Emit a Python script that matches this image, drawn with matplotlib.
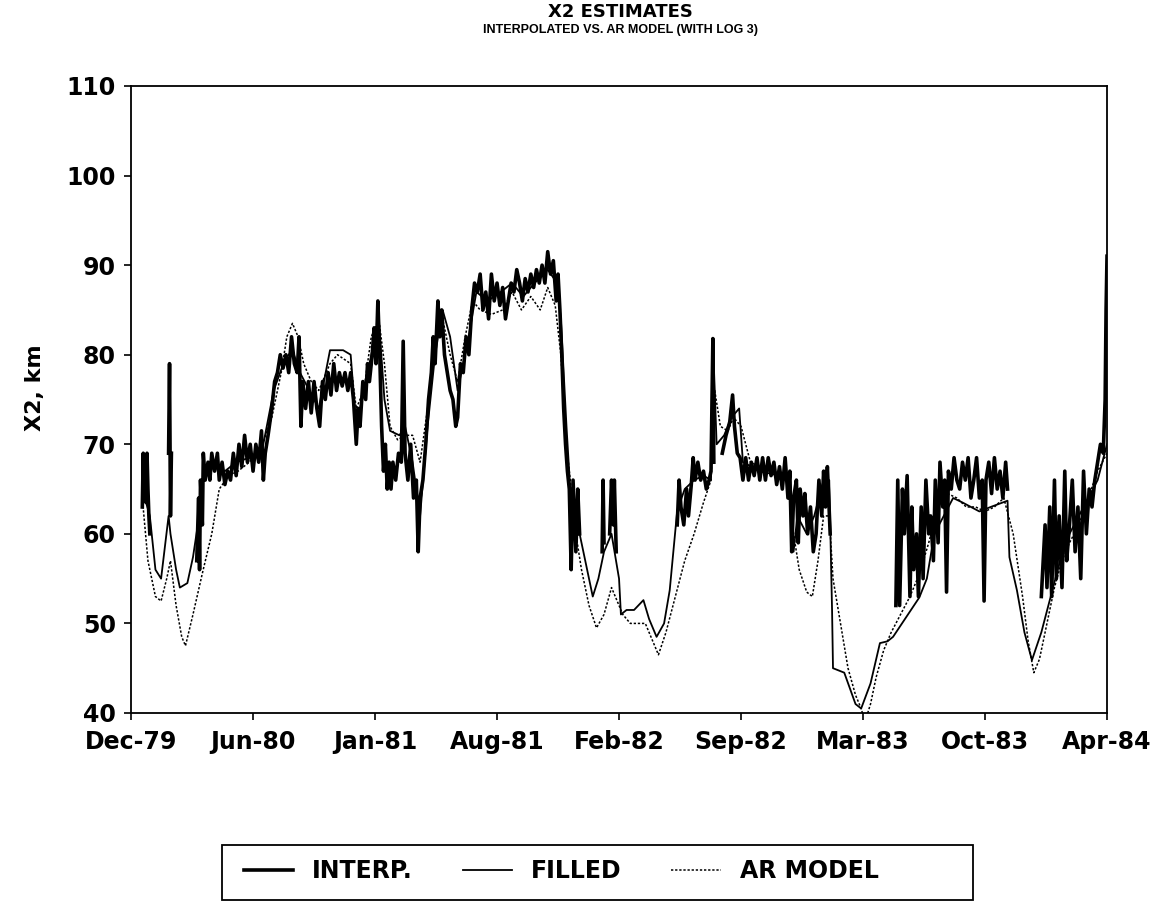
import numpy as np
import matplotlib.pyplot as plt
from matplotlib.patches import Rectangle

# x positions are months after 1 Dec 1979
tick_labels = ['Dec-79', 'Jun-80', 'Jan-81', 'Aug-81', 'Feb-82',
               'Sep-82', 'Mar-83', 'Oct-83', 'Apr-84']

nan = np.nan

# interpolated X2 (gaps where no salinity data)
interp_m = [0.60, 0.65, 0.70, 0.75, 0.80, 0.85, 0.90, 0.95, 1.00, 1.02,
            2.00, 2.05, 2.10, 2.15, 2.17,
            3.50, 3.60, 3.65, 3.70, 3.80, 3.85, 3.95, 4.10, 4.20, 4.30,
            4.45, 4.60, 4.70, 4.85, 5.00, 5.15, 5.30, 5.45, 5.60, 5.75,
            5.90, 6.05, 6.20, 6.35, 6.50, 6.65, 6.80, 6.95, 7.05, 7.15,
            7.30, 7.50, 7.65, 7.80, 7.95, 8.10, 8.25, 8.40, 8.55, 8.70,
            8.85, 8.95, 9.05, 9.15, 9.30, 9.45, 9.60, 9.75, 9.90, 10.05,
            10.20, 10.35, 10.50, 10.65, 10.80, 10.95, 11.10, 11.25, 11.40, 11.55,
            11.70, 11.85, 12.00, 12.10, 12.20, 12.35, 12.50, 12.60, 12.70, 12.85,
            12.95, 13.05, 13.15, 13.25, 13.35, 13.45, 13.55, 13.65, 13.75, 13.85,
            13.95, 14.10, 14.25, 14.40, 14.50, 14.60, 14.75, 14.90, 15.05, 15.20,
            15.30, 15.40, 15.55, 15.70, 15.85, 16.00, 16.10, 16.20, 16.35, 16.45,
            16.55, 16.70, 16.85, 17.00, 17.15, 17.30, 17.40, 17.55, 17.70, 17.85,
            18.00, 18.15, 18.30, 18.45, 18.60, 18.75, 18.90, 19.05, 19.20, 19.35,
            19.50, 19.65, 19.80, 19.95, 20.10, 20.25, 20.40, 20.55, 20.70, 20.85,
            21.00, 21.15, 21.30, 21.45, 21.60, 21.75, 21.90, 22.05, 22.20, 22.35,
            22.50, 22.65, 22.75, 22.85, 22.95, 23.05, 23.15, 23.25, 23.35, 23.45,
            23.55, 23.70, 23.80, 23.90, 23.92,
            25.10, 25.15, 25.20, 25.22,
            25.50, 25.60, 25.70, 25.75, 25.85, 25.87,
            29.10, 29.20, 29.30, 29.45, 29.60, 29.70, 29.85, 29.95, 30.05, 30.20,
            30.35, 30.50, 30.65, 30.80, 30.90, 31.00, 31.05, 31.07,
            31.50, 31.70, 31.90, 32.05, 32.15, 32.30, 32.45, 32.60, 32.75, 32.90,
            33.05, 33.20, 33.35, 33.50, 33.65, 33.80, 33.95, 34.10, 34.25, 34.40,
            34.55, 34.70, 34.85, 35.00, 35.10, 35.20, 35.30, 35.45, 35.55, 35.65,
            35.80, 35.90, 36.05, 36.20, 36.35, 36.50, 36.65, 36.80, 36.90, 37.00,
            37.10, 37.25, 37.27,
            40.75, 40.85, 40.95, 41.10, 41.20, 41.35, 41.50, 41.60, 41.70, 41.85,
            41.95, 42.10, 42.20, 42.35, 42.50, 42.60, 42.75, 42.85, 43.00, 43.10,
            43.25, 43.35, 43.45, 43.55, 43.70, 43.85, 44.00, 44.15, 44.30, 44.45,
            44.60, 44.75, 44.90, 45.05, 45.20, 45.35, 45.45, 45.55, 45.70, 45.85,
            46.00, 46.15, 46.30, 46.45, 46.60, 46.70, 46.72,
            48.50, 48.70, 48.80, 48.95, 49.05, 49.20, 49.30, 49.45, 49.60, 49.75,
            49.85, 50.00, 50.15, 50.30, 50.45, 50.60, 50.75, 50.90, 51.05, 51.20,
            51.35, 51.50, 51.65, 51.80, 51.90, 51.95, 52.00]
interp_v = [63, 69, 64, 68.5, 63.5, 69, 65, 62, 60, nan,
            69, 79, 62, 69, nan,
            57, 64, 56, 66, 61, 69, 66, 68, 66, 69,
            67, 69, 66, 68, 65.5, 67, 66, 69, 66.5, 70,
            67.5, 71, 68, 70, 67, 70, 68, 71.5, 66, 69,
            71, 74, 77, 78, 80, 78.5, 80, 78, 82, 79,
            78, 82, 72, 77, 74, 77, 73.5, 77, 74, 72,
            77, 75, 78, 75.5, 79, 76, 78, 76.5, 78, 76,
            78, 75, 70, 74, 72, 77, 75, 79, 77, 80,
            83, 79, 86, 80, 72, 67, 70, 65, 68, 65,
            68, 66, 69, 68, 81.5, 69, 66, 70, 64, 66,
            58, 64, 66, 70, 75, 78, 82, 79, 86, 82,
            85, 80, 78, 76, 75, 72, 73, 79, 78, 82,
            80, 85, 88, 87, 89, 85, 87, 84, 89, 86,
            88, 85.5, 87.5, 84, 86, 88, 87, 89.5, 88, 86,
            88.5, 87, 89, 87.5, 89.5, 88, 90, 88, 91.5, 89,
            90.5, 86, 89, 85, 80, 74, 70, 67, 65, 56,
            66, 58, 65, 60, nan,
            58, 66, 59, nan,
            60, 66, 61, 66, 58, nan,
            61, 66, 63, 61, 65, 62, 65.5, 68.5, 66, 68,
            66, 67, 65, 66, 67, 81.8, 68, nan,
            69, 71, 72.5, 75.5, 72, 69, 68.5, 66, 68.5, 66,
            68, 66.5, 68.5, 66, 68.5, 66, 68.5, 66.5, 68, 65.5,
            67.5, 65, 68.5, 64, 67, 58, 64, 66, 59, 65,
            62, 64.5, 60, 63, 58, 60, 66, 62, 67, 63,
            67.5, 60, nan,
            52, 66, 52, 65, 60, 66.5, 53, 63, 56, 60,
            53, 63, 55, 66, 60, 62, 57, 66, 59, 68,
            63, 66, 53.5, 67, 65, 68.5, 66, 65, 68, 66,
            68.5, 64, 66, 68.5, 64, 66, 52.5, 66, 68, 64.5,
            68.5, 65, 67, 64, 68, 65, nan,
            53, 61, 54, 63, 53, 66, 55, 62, 54, 67,
            57, 61, 66, 58, 63, 55, 67, 60, 65, 63,
            66, 68, 70, 69, 75, 85, 91]

# filled record
filled_m = [0.6, 1.0, 1.3, 1.6, 2.0, 2.1, 2.4, 2.6, 3.0, 3.3,
            3.7, 3.9, 4.5, 5.0, 5.6, 6.3, 7.0, 7.6, 8.2, 8.6,
            9.0, 9.5, 10.0, 10.6, 11.3, 11.7, 12.0, 12.4, 12.8, 13.2,
            13.5, 13.8, 14.3, 14.6, 15.0, 15.4, 15.8, 16.2, 16.6, 17.0,
            17.4, 17.9, 18.4, 19.0, 19.7, 20.3, 20.9, 21.5, 22.2, 22.7,
            22.9, 23.2, 23.4, 23.8, 24.2, 24.6, 24.9, 25.2, 25.6, 26.0,
            26.1, 26.4, 26.8, 27.3, 27.6, 28.0, 28.4, 28.7, 29.1, 29.5,
            30.0, 30.5, 30.9, 31.0, 31.2, 31.6, 32.0, 32.4, 32.6, 33.5,
            34.5, 35.1, 35.3, 35.5, 36.0, 36.4, 36.9, 37.2, 37.35, 37.4,
            38.0, 38.6, 38.9, 39.4, 39.9, 40.3, 40.6, 41.3, 42.0, 42.4,
            42.8, 43.3, 43.8, 44.3, 45.2, 45.8, 46.7, 46.8, 47.2, 47.6,
            48.0, 48.5, 49.0, 49.5, 50.0, 50.5, 51.0, 51.5, 52.0]
filled_v = [65, 62, 56, 55, 62, 60, 56, 54, 54.5, 57.4,
            63, 67, 67.5, 67, 68, 68.5, 69.5, 76, 79.5, 80.5,
            78, 76, 74, 80.5, 80.5, 80, 72, 76, 80, 84,
            75, 71.5, 71, 72, 68, 62, 72, 80, 85, 82,
            76, 81, 87, 86, 87, 88, 86.5, 88, 89.5, 88,
            84, 72, 65, 61, 57, 53, 55, 58, 60, 55,
            51, 51.5, 51.5, 52.6, 50.5, 48.5, 50, 53.7, 62.6, 65,
            66, 66.5, 66, 81.8, 70, 71, 73, 74, 68, 67,
            66.5, 66, 58, 62, 60, 62, 66, 66, 51.5, 45,
            44.5, 41, 40.5, 43.3, 47.8, 48, 48.5, 50.7, 52.9, 55,
            60, 62, 64, 63.5, 62.5, 63, 63.7, 57.4, 53.7, 49,
            45.9, 49, 53, 57, 60, 62, 64, 66, 70]

# AR model estimate
ar_m = [0.6, 0.9, 1.3, 1.6, 1.9, 2.1, 2.4, 2.7, 2.9, 3.3,
        3.8, 4.3, 4.7, 5.2, 5.7, 6.3, 7.0, 7.5, 8.0, 8.3,
        8.6, 8.9, 9.2, 9.6, 10.0, 10.6, 11.0, 11.7, 12.0, 12.4,
        12.8, 13.2, 13.5, 13.8, 14.2, 14.6, 15.0, 15.4, 15.8, 16.2,
        16.6, 17.0, 17.4, 17.8, 18.2, 18.6, 19.2, 19.8, 20.3, 20.8,
        21.3, 21.8, 22.2, 22.6, 22.9, 23.2, 23.4, 23.7, 24.0, 24.4,
        24.8, 25.2, 25.6, 25.9, 26.2, 26.6, 27.0, 27.4, 27.8, 28.1,
        28.5, 29.0, 29.5, 30.0, 30.5, 30.9, 31.1, 31.4, 31.8, 32.1,
        32.5, 33.0, 33.5, 34.0, 34.5, 35.0, 35.3, 35.6, 36.0, 36.3,
        36.6, 36.9, 37.2, 37.4, 37.8, 38.2, 38.6, 38.9, 39.1, 39.4,
        39.7, 40.1, 40.5, 41.0, 41.5, 42.0, 42.5, 43.0, 43.5, 44.0,
        44.5, 45.0, 45.5, 46.0, 46.5, 47.0, 47.5, 47.8, 48.1, 48.4,
        48.8, 49.2, 49.6, 50.0, 50.5, 51.0, 51.5, 52.0]
ar_v = [64, 57, 53, 52.5, 55, 57, 52, 48.5, 47.5, 51,
        55.6, 60, 65, 66.5, 67, 68, 70, 73, 78, 82,
        83.5, 82, 79, 77, 76, 79, 80, 79, 74, 76,
        82, 84, 79, 72, 70.5, 71, 71, 68, 74, 81,
        84, 80, 77, 82, 86, 85, 84.5, 85, 87, 85,
        86.5, 85, 87.5, 85.5, 80, 70, 66, 60, 56, 52,
        49.5, 51, 54, 52.5, 51, 50, 50, 50, 48, 46.5,
        49, 53, 57, 60, 63.5, 66, 76, 72, 71.5, 73,
        72, 68, 67.5, 67, 66.5, 66, 60, 56, 53.5, 53,
        57, 62, 62, 55, 50, 45, 42, 40.5, 39, 41,
        44, 47, 49, 51, 53, 55.5, 59, 63, 64.5, 64,
        63, 63, 62.5, 63, 64, 60, 53, 48, 44.5, 46,
        50, 54, 57, 59, 61, 64, 67, 69]

plt.rcParams['font.family'] = ['DejaVu Sans']
plt.rcParams['font.weight'] = 'bold'

fig = plt.figure(figsize=(11.67, 9.10), dpi=100)
ax = fig.add_axes([0.1123, 0.2165, 0.8363, 0.6890])

ax.plot(ar_m, ar_v, color='black', lw=1.1, ls=(0, (1.5, 1.2)), label='AR MODEL')
ax.plot(filled_m, filled_v, color='black', lw=1.3, label='FILLED')
ax.plot(interp_m, interp_v, color='black', lw=2.6, label='INTERP.')

ax.set_xlim(0, 52)
ax.set_ylim(40, 110)
ax.set_xticks(np.linspace(0, 52, len(tick_labels)))
ax.set_xticklabels(tick_labels)
ax.set_yticks(range(40, 111, 10))
ax.tick_params(direction='out', length=5, width=1.2, labelsize=17)
ax.tick_params(axis='y', pad=6)
ax.tick_params(axis='x', pad=7)
for s in ax.spines.values():
    s.set_linewidth(1.3)

fig.text(35 / 1167, 1 - 388 / 910, 'X2, km', rotation=90, ha='center',
         va='center', fontsize=16, fontweight='bold')

fig.text(0.532, 0.987, 'X2 ESTIMATES', ha='center', va='center',
         fontsize=13, fontweight='bold')
fig.text(0.532, 0.967, 'INTERPOLATED VS. AR MODEL (WITH LOG 3)',
         ha='center', va='center', fontsize=9,
         family='Liberation Sans', fontweight='bold')

# legend entries, with the box drawn separately
h, l = ax.get_legend_handles_labels()
fig.legend(h[::-1], l[::-1], loc='center left', bbox_to_anchor=(0.1988, 0.043),
           ncol=3, frameon=False, handlelength=2.1, handletextpad=0.8,
           columnspacing=2.1, borderpad=0.0,
           prop={'weight': 'bold', 'size': 17})
fig.patches.append(Rectangle((0.1902, 0.011), 0.6435, 0.0604,
                             transform=fig.transFigure, fill=False,
                             edgecolor='black', lw=1.3))

fig.savefig('out.png', dpi=100)
